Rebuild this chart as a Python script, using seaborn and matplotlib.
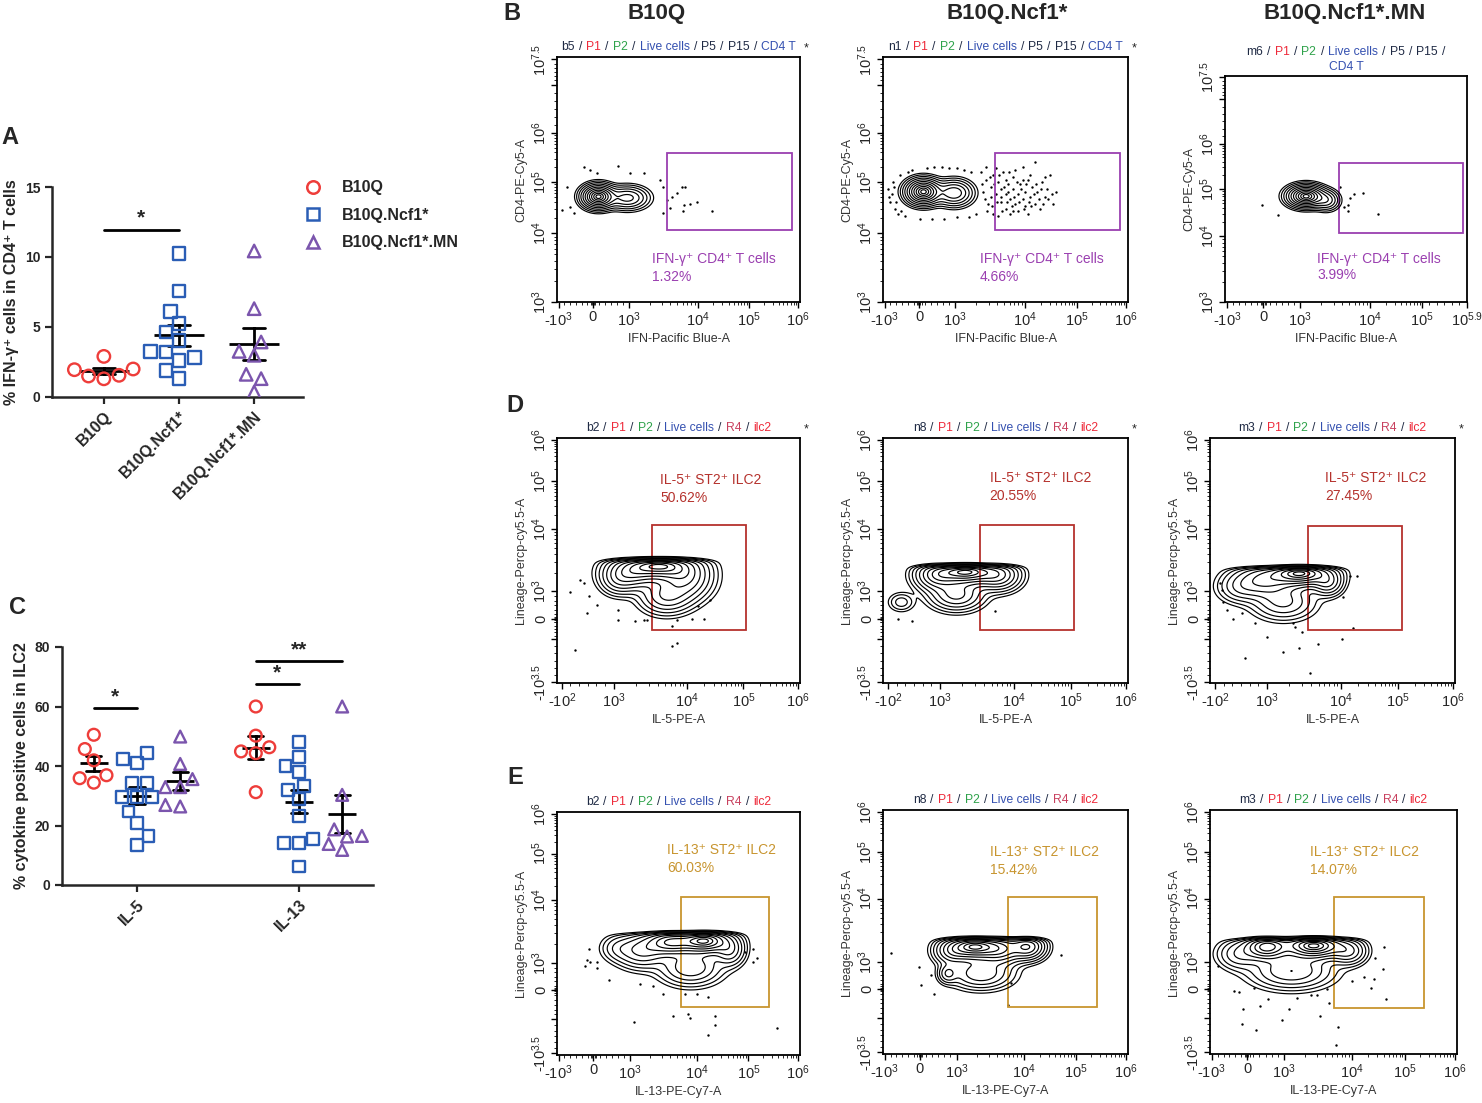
import numpy as np
import pandas as pd
import matplotlib
matplotlib.use('Agg')
import matplotlib.pyplot as plt
import seaborn as sns
from matplotlib.lines import Line2D
from matplotlib.patches import Rectangle
from matplotlib.offsetbox import TextArea, HPacker, VPacker, AnchoredOffsetbox

# ---------------- panel A : % IFN-g+ in CD4+ T cells
groups = ['B10Q', 'B10Q.Ncf1*', 'B10Q.Ncf1*.MN']
ifn_b10q = [2.9, 2.0, 1.95, 1.3, 1.5, 1.55]
ifn_ncf1 = [10.24, 7.57, 6.12, 5.24, 4.64, 4.05, 2.81, 3.2, 3.26, 2.62, 1.9, 1.31]
ifn_mn = [10.43, 6.31, 3.93, 3.26, 2.98, 1.62, 1.31, 0.36]
sig_a = [('B10Q', 'B10Q.Ncf1*', 11.9, '*')]

# ---------------- panel C : cytokine positive ILC2
cytokines = ['IL-5', 'IL-13']
il5_b10q = [50.5, 45.7, 41.9, 34.4, 36.9, 35.9]
il5_ncf1 = [40.9, 42.3, 44.5, 34.2, 34.2, 29.7, 29.7, 29.7, 24.7, 20.8, 16.5, 13.5]
il5_mn = [49.9, 40.7, 35.6, 32.9, 32.9, 26.4, 26.9]
il13_b10q = [60.0, 50.2, 46.3, 44.3, 44.9, 31.2]
il13_ncf1 = [48.2, 38.1, 40.1, 42.9, 33.3, 32.0, 28.8, 23.3, 15.4, 14.0, 14.2, 6.2]
il13_mn = [60.0, 30.3, 16.5, 16.3, 18.7, 11.8, 13.8]
sig_c = [('IL-5', 'B10Q', 'IL-5', 'B10Q.Ncf1*', 59.5, '*'),
         ('IL-13', 'B10Q', 'IL-13', 'B10Q.Ncf1*', 67.7, '*'),
         ('IL-13', 'B10Q', 'IL-13', 'B10Q.Ncf1*.MN', 75.2, '**')]

# ---------------- flow plots (display units 0..1 on each axis)
# blobs: (centre x, centre y, spread x, spread y, weight)
b_samples = ['b5', 'n1', 'm6']
b_pcts = ['1.32%', '4.66%', '3.99%']
b_gates = [(0.452, 0.293, 0.968, 0.607), (0.456, 0.293, 0.969, 0.607), (0.473, 0.307, 0.985, 0.613)]
b_blobs = [
    [(0.17, 0.43, 0.035, 0.025, 1.0), (0.29, 0.425, 0.045, 0.025, 0.35)],
    [(0.165, 0.45, 0.037, 0.027, 1.0), (0.29, 0.445, 0.04, 0.028, 0.4)],
    [(0.335, 0.468, 0.04, 0.025, 1.0), (0.42, 0.45, 0.028, 0.024, 0.25)],
]
b_dots = [
    [(0.041, 0.471), (0.021, 0.375), (0.055, 0.389), (0.11, 0.553), (0.164, 0.525), (0.253, 0.557),
     (0.30, 0.525), (0.356, 0.525), (0.425, 0.498), (0.438, 0.471), (0.452, 0.416), (0.473, 0.43),
     (0.493, 0.443), (0.514, 0.471), (0.527, 0.471), (0.521, 0.396), (0.548, 0.402), (0.575, 0.409),
     (0.52, 0.372), (0.637, 0.372), (0.438, 0.362), (0.466, 0.382), (0.068, 0.362), (0.137, 0.539)],
    [(0.42, 0.50), (0.44, 0.47), (0.45, 0.52), (0.46, 0.44), (0.47, 0.49), (0.48, 0.41), (0.48, 0.46),
     (0.49, 0.53), (0.50, 0.38), (0.50, 0.44), (0.51, 0.48), (0.52, 0.42), (0.52, 0.36), (0.53, 0.46),
     (0.53, 0.51), (0.54, 0.40), (0.55, 0.44), (0.55, 0.37), (0.56, 0.48), (0.57, 0.42), (0.58, 0.45),
     (0.58, 0.39), (0.59, 0.50), (0.60, 0.43), (0.61, 0.47), (0.62, 0.40), (0.63, 0.45), (0.64, 0.38),
     (0.65, 0.49), (0.66, 0.43), (0.67, 0.46), (0.69, 0.44), (0.68, 0.52), (0.57, 0.55), (0.62, 0.57),
     (0.45, 0.36), (0.47, 0.35), (0.43, 0.40), (0.41, 0.45), (0.44, 0.43), (0.02, 0.46), (0.03, 0.41),
     (0.04, 0.49), (0.05, 0.38), (0.035, 0.44), (0.07, 0.52), (0.06, 0.36), (0.12, 0.54), (0.18, 0.545),
     (0.24, 0.55), (0.30, 0.545), (0.36, 0.53), (0.40, 0.53), (0.15, 0.34), (0.25, 0.34), (0.35, 0.345),
     (0.405, 0.48), (0.415, 0.42), (0.425, 0.37), (0.435, 0.51), (0.445, 0.39), (0.455, 0.48),
     (0.465, 0.41), (0.475, 0.52), (0.485, 0.37), (0.495, 0.47), (0.505, 0.41), (0.515, 0.53),
     (0.525, 0.39), (0.535, 0.43), (0.545, 0.49), (0.555, 0.41), (0.565, 0.46), (0.575, 0.38),
     (0.585, 0.48), (0.595, 0.41), (0.605, 0.39), (0.615, 0.44), (0.625, 0.48), (0.635, 0.42),
     (0.645, 0.46), (0.655, 0.40), (0.675, 0.42), (0.705, 0.45), (0.695, 0.40), (0.66, 0.51),
     (0.60, 0.52), (0.54, 0.54), (0.50, 0.50), (0.46, 0.545), (0.42, 0.55), (0.48, 0.43), (0.51, 0.45),
     (0.53, 0.37), (0.57, 0.50), (0.59, 0.36), (0.025, 0.43), (0.045, 0.47), (0.055, 0.41),
     (0.075, 0.37), (0.09, 0.35), (0.10, 0.53), (0.21, 0.55), (0.27, 0.545), (0.33, 0.54),
     (0.20, 0.34), (0.30, 0.345), (0.38, 0.36)],
    [(0.152, 0.428), (0.221, 0.384), (0.49, 0.421), (0.517, 0.458), (0.531, 0.48), (0.572, 0.483),
     (0.51, 0.428), (0.51, 0.403), (0.634, 0.391), (0.476, 0.51)],
]

ilc_samples = ['b2', 'n8', 'm3']
d_pcts = ['50.62%', '20.55%', '27.45%']
d_gates = [(0.393, 0.218, 0.778, 0.646), (0.397, 0.218, 0.78, 0.646), (0.399, 0.216, 0.782, 0.641)]
d_tops = [0.50, 0.476, 0.468]
d_blobs = [
    [(0.42, 0.48, 0.08, 0.035, 1.0), (0.30, 0.45, 0.06, 0.04, 0.5), (0.53, 0.43, 0.06, 0.05, 0.45),
     (0.45, 0.355, 0.06, 0.04, 0.32), (0.25, 0.42, 0.04, 0.035, 0.15)],
    [(0.34, 0.455, 0.07, 0.03, 1.0), (0.22, 0.44, 0.05, 0.035, 0.5), (0.47, 0.44, 0.05, 0.035, 0.45),
     (0.30, 0.36, 0.06, 0.035, 0.35), (0.075, 0.33, 0.03, 0.022, 0.1)],
    [(0.37, 0.45, 0.07, 0.03, 1.0), (0.22, 0.42, 0.07, 0.04, 0.45), (0.12, 0.39, 0.05, 0.035, 0.15),
     (0.30, 0.33, 0.07, 0.04, 0.22), (0.48, 0.41, 0.035, 0.03, 0.3)],
]
d_dots = [
    [(0.052, 0.371), (0.075, 0.136), (0.093, 0.422), (0.11, 0.408), (0.123, 0.286), (0.13, 0.354),
     (0.164, 0.32), (0.253, 0.256), (0.253, 0.297), (0.322, 0.254), (0.356, 0.259), (0.473, 0.234),
     (0.493, 0.259), (0.555, 0.261), (0.582, 0.313), (0.63, 0.34), (0.473, 0.152), (0.493, 0.163),
     (0.37, 0.259), (0.603, 0.261)],
    [(0.061, 0.262), (0.12, 0.253), (0.456, 0.295)],
    [(0.041, 0.407), (0.048, 0.379), (0.054, 0.332), (0.068, 0.297), (0.095, 0.263), (0.129, 0.284),
     (0.143, 0.102), (0.184, 0.243), (0.231, 0.186), (0.299, 0.127), (0.34, 0.246), (0.347, 0.229),
     (0.363, 0.141), (0.374, 0.209), (0.408, 0.041), (0.442, 0.161), (0.537, 0.181), (0.544, 0.352),
     (0.571, 0.438), (0.599, 0.438), (0.585, 0.225)],
]

e_pcts = ['60.03%', '15.42%', '14.07%']
e_gates = [(0.51, 0.196, 0.874, 0.65), (0.51, 0.191, 0.875, 0.645), (0.503, 0.19, 0.865, 0.645)]
e_tops = [0.50, 0.47, 0.47]
e_blobs = [
    [(0.61, 0.47, 0.06, 0.03, 1.0), (0.47, 0.465, 0.06, 0.03, 0.75), (0.35, 0.43, 0.06, 0.04, 0.35),
     (0.55, 0.36, 0.07, 0.04, 0.3), (0.71, 0.43, 0.035, 0.035, 0.3), (0.25, 0.44, 0.04, 0.03, 0.1)],
    [(0.37, 0.44, 0.06, 0.03, 1.0), (0.59, 0.44, 0.04, 0.03, 0.6), (0.48, 0.43, 0.05, 0.035, 0.55),
     (0.265, 0.33, 0.022, 0.022, 0.2), (0.28, 0.42, 0.04, 0.03, 0.3), (0.40, 0.33, 0.07, 0.035, 0.3)],
    [(0.23, 0.44, 0.05, 0.03, 0.8), (0.42, 0.445, 0.07, 0.03, 1.0), (0.12, 0.41, 0.05, 0.035, 0.2),
     (0.33, 0.34, 0.09, 0.04, 0.3), (0.56, 0.42, 0.04, 0.03, 0.3)],
]
e_dots = [
    [(0.13, 0.438), (0.123, 0.39), (0.137, 0.384), (0.164, 0.384), (0.116, 0.366), (0.164, 0.36),
     (0.212, 0.308), (0.315, 0.137), (0.342, 0.292), (0.397, 0.284), (0.438, 0.253), (0.477, 0.16),
     (0.541, 0.168), (0.548, 0.151), (0.623, 0.082), (0.651, 0.16), (0.651, 0.123), (0.623, 0.237),
     (0.774, 0.425), (0.808, 0.438), (0.808, 0.384), (0.822, 0.4), (0.904, 0.112), (0.575, 0.253),
     (0.527, 0.253)],
    [(0.034, 0.413), (0.146, 0.358), (0.154, 0.283), (0.197, 0.324), (0.208, 0.246), (0.51, 0.2),
     (0.521, 0.292), (0.728, 0.406)],
    [(0.031, 0.361), (0.099, 0.258), (0.118, 0.255), (0.132, 0.183), (0.128, 0.122), (0.178, 0.269),
     (0.185, 0.098), (0.203, 0.197), (0.234, 0.227), (0.293, 0.139), (0.32, 0.183), (0.354, 0.231),
     (0.408, 0.242), (0.435, 0.242), (0.446, 0.156), (0.473, 0.266), (0.48, 0.208), (0.518, 0.112),
     (0.509, 0.037), (0.574, 0.301), (0.622, 0.317), (0.662, 0.306), (0.653, 0.272), (0.699, 0.347),
     (0.703, 0.437), (0.712, 0.224), (0.669, 0.392)],
]

# axis tick labels and where the cytometer software puts them
b_x_labels = ['-10^3', '0', '10^3', '10^4', '10^5', '10^6']
b_x_pos = [0.007, 0.148, 0.295, 0.58, 0.79, 0.993]
b3_x_labels = ['-10^3', '0', '10^3', '10^4', '10^5', '10^5.9']
b3_x_pos = [0.01, 0.159, 0.31, 0.60, 0.814, 1.0]
b_y_labels = ['10^3', '10^4', '10^5', '10^6', '', '10^7.5']
b_y_pos = [0.0, 0.28, 0.49, 0.69, 0.887, 0.99]
b3_y_pos = [0.0, 0.29, 0.50, 0.70, 0.898, 0.994]
d_x_labels = ['-10^2', '10^3', '10^4', '10^5', '10^6']
d_x_pos = [0.02, 0.233, 0.534, 0.767, 0.993]
ilc_y_labels = ['-10^3.5', '', '0', '10^3', '10^4', '10^5', '10^6']
d_y_pos = [0.003, 0.18, 0.261, 0.374, 0.629, 0.823, 0.993]
e_x_labels = ['-10^3', '0', '10^3', '10^4', '10^5', '10^6']
e_x_pos = [0.007, 0.15, 0.30, 0.575, 0.788, 0.993]
e_y_pos = [0.007, 0.147, 0.267, 0.377, 0.637, 0.829, 0.993]

RED, BLUE, PURPLE = '#ee3d3a', '#2a5db5', '#7b55ad'
pal = dict(zip(groups, [RED, BLUE, PURPLE]))
markers = dict(zip(groups, ['o', 's', '^']))

sns.set_style('ticks')
plt.rcParams['font.family'] = ['Liberation Sans', 'DejaVu Sans']
plt.rcParams['mathtext.fontset'] = 'custom'
plt.rcParams['mathtext.rm'] = 'Liberation Sans'
plt.rcParams['mathtext.it'] = 'Liberation Sans:italic'
plt.rcParams['mathtext.bf'] = 'Liberation Sans:bold'
plt.rcParams['mathtext.default'] = 'regular'

W, H = 1482, 1103
fig = plt.figure(figsize=(W / 100, H / 100), dpi=100)


def px_axes(l, r, t, b):
    return fig.add_axes([l / W, 1 - b / H, (r - l) / W, (b - t) / H])


def hollow(ax, n0, color):
    for c in ax.collections[n0:]:
        c.set_facecolor('none')
        c.set_edgecolor(color)
        c.set_linewidth(1.7)


def style_dot_axes(ax, ylabel):
    sns.despine(ax=ax)
    for s in ['left', 'bottom']:
        ax.spines[s].set_linewidth(1.8)
    ax.tick_params(width=1.6, length=5, labelsize=10)
    for t in ax.get_yticklabels():
        t.set_fontweight('bold')
    for t in ax.get_xticklabels():
        t.set_fontweight('bold')
        t.set_fontsize(11.5)
    ax.set_ylabel(ylabel, fontsize=11.5, fontweight='bold')
    ax.set_xlabel('')


# ---------------- panel A
ax = px_axes(52, 303, 187, 397)
dfa = pd.DataFrame({'group': np.repeat(groups, [len(ifn_b10q), len(ifn_ncf1), len(ifn_mn)]),
                    'value': ifn_b10q + ifn_ncf1 + ifn_mn})
for g in groups:
    n0 = len(ax.collections)
    sns.swarmplot(data=dfa[dfa.group == g], x='group', y='value', order=groups, marker=markers[g],
                  size=9, color=pal[g], ax=ax)
    hollow(ax, n0, pal[g])
sns.pointplot(data=dfa, x='group', y='value', order=groups, errorbar='se', color='black',
              marker='_', markersize=36, markeredgewidth=2, linestyle='none', capsize=0.29,
              err_kws={'linewidth': 2}, ax=ax)
ax.set_ylim(0, 15)
ax.set_yticks([0, 5, 10, 15])
ax.set_xlim(-0.69, 2.65)
ax.set_xticks(range(len(groups)))
ax.set_xticklabels(groups, rotation=45, ha='right', rotation_mode='anchor')
style_dot_axes(ax, '% IFN-γ⁺ cells in CD4⁺ T cells')
for a, b, h, s in sig_a:
    xa, xb = groups.index(a), groups.index(b)
    ax.plot([xa, xb], [h, h], color='black', lw=2, clip_on=False)
    ax.text((xa + xb) / 2, h + 0.2, s, ha='center', va='bottom', fontsize=15, fontweight='bold')

handles = [Line2D([], [], marker=markers[g], ls='none', mfc='none', mec=pal[g], mew=1.8, ms=9)
           for g in groups]
fig.legend(handles, groups, loc='upper left', bbox_to_anchor=(289 / W, 1 - 166 / H), frameon=False,
           prop={'weight': 'bold', 'size': 11.5}, handletextpad=1.2, labelspacing=0.78,
           handlelength=1.2)

# ---------------- panel C
ax = px_axes(62, 373, 647, 885)
rows = []
for cyt, vals in zip(cytokines, [[il5_b10q, il5_ncf1, il5_mn], [il13_b10q, il13_ncf1, il13_mn]]):
    for g, v in zip(groups, vals):
        rows += [(cyt, g, x) for x in v]
dfc = pd.DataFrame(rows, columns=['cytokine', 'group', 'value'])
for g in groups:
    n0 = len(ax.collections)
    sns.swarmplot(data=dfc[dfc.group == g], x='cytokine', y='value', hue='group', order=cytokines,
                  hue_order=groups, dodge=True, palette=pal, marker=markers[g], size=8.5,
                  legend=False, ax=ax)
    hollow(ax, n0, pal[g])
sns.pointplot(data=dfc, x='cytokine', y='value', hue='group', order=cytokines, hue_order=groups,
              dodge=0.534, palette=['black'] * 3, errorbar='se', marker='_', markersize=20,
              markeredgewidth=2, linestyle='none', capsize=0.095, err_kws={'linewidth': 2},
              legend=False, ax=ax)
ax.set_ylim(0, 80)
ax.set_yticks([0, 20, 40, 60, 80])
ax.set_xlim(-0.463, 1.457)
ax.set_xticks(range(len(cytokines)))
ax.set_xticklabels(cytokines, rotation=45, ha='right', rotation_mode='anchor')
style_dot_axes(ax, '% cytokine positive cells in ILC2')
off = dict(zip(groups, [-0.267, 0.0, 0.267]))
for ca, ga, cb, gb, h, s in sig_c:
    xa = cytokines.index(ca) + off[ga]
    xb = cytokines.index(cb) + off[gb]
    ax.plot([xa, xb], [h, h], color='black', lw=2, clip_on=False)
    ax.text((xa + xb) / 2, h + 0.5, s, ha='center', va='bottom', fontsize=15, fontweight='bold')

# ---------------- flow panels
grid = np.linspace(0, 1, 301)
gx, gy = np.meshgrid(grid, grid)
radii = np.linspace(0.3, 2.8, 11)

K, R, G, BL, R4 = '#1f2a44', '#ee2a3a', '#2ea24a', '#3450b0', '#c8405e'


def fmt(lab):
    if lab in ('', '0'):
        return lab
    sign = '-' if lab.startswith('-') else ''
    return sign + '$10^{' + lab.lstrip('-')[3:] + '}$'


def set_flow_ticks(axis, labels, pos):
    axis.set_ticks(pos)
    axis.set_ticklabels([fmt(l) for l in labels])
    minors = []
    for la, lb, pa, pb in zip(labels[:-1], labels[1:], pos[:-1], pos[1:]):
        if la.startswith('10^') and lb.startswith('10^') and '.' not in la + lb:
            minors += [pa + (pb - pa) * np.log10(k) for k in range(2, 10)]
        else:
            minors += list(np.linspace(pa, pb, 7)[1:-1])
    if '0' in labels:
        z = pos[labels.index('0')]
        minors += [z - 0.01, z - 0.005, z + 0.005, z + 0.01]
    axis.set_ticks(minors, minor=True)


def header(ax, sample, tail, wrap=False, star=True):
    parts = [(sample, K), ('/', K), ('P1', R), ('/', K), ('P2', G), ('/', K), ('Live cells', BL)] + tail
    tp = lambda c: dict(color=c, fontsize=8.7)
    if wrap:
        row1 = HPacker(children=[TextArea(t, textprops=tp(c)) for t, c in parts[:-1]],
                       align='baseline', pad=0, sep=3)
        row2 = TextArea(parts[-1][0], textprops=tp(parts[-1][1]))
        box = VPacker(children=[row1, row2], align='center', pad=0, sep=2)
    else:
        box = HPacker(children=[TextArea(t, textprops=tp(c)) for t, c in parts],
                      align='baseline', pad=0, sep=3)
    ab = AnchoredOffsetbox(loc='lower center', child=box, pad=0, borderpad=0, frameon=False,
                           bbox_to_anchor=(0.5, 1.015), bbox_transform=ax.transAxes)
    ax.add_artist(ab)
    if star:
        ax.text(1.025, 1.035, '*', transform=ax.transAxes, ha='center', va='center', fontsize=9)


def flow_panel(ax, blobs, dots, gate, gcolor, label, pct, txy, xspec, yspec, xlabel, ylabel, top=None):
    d = np.zeros_like(gx)
    for cx, cy, sx, sy, w in blobs:
        d += w * np.exp(-0.5 * (((gx - cx) / sx) ** 2 + ((gy - cy) / sy) ** 2))
    if top is not None:
        d /= 1 + np.exp((gy - top) / 0.005)
    ax.contour(gx, gy, d, levels=d.max() * np.exp(-0.5 * radii[::-1] ** 2), colors='black',
               linewidths=0.85)
    dx, dy = zip(*dots)
    ax.scatter(dx, dy, s=3, color='black', linewidths=0)
    x0, y0, x1, y1 = gate
    ax.add_patch(Rectangle((x0, y0), x1 - x0, y1 - y0, fill=False, edgecolor=gcolor, lw=1.3))
    ax.text(txy[0], txy[1], label, color=gcolor, fontsize=10, va='center', transform=ax.transAxes)
    ax.text(txy[0], txy[1] - 0.073, pct, color=gcolor, fontsize=10, va='center',
            transform=ax.transAxes)
    ax.set_xlim(0, 1)
    ax.set_ylim(0, 1)
    set_flow_ticks(ax.xaxis, *xspec)
    set_flow_ticks(ax.yaxis, *yspec)
    for t in ax.get_yticklabels():
        t.set_rotation(90)
        t.set_va('center')
    ax.tick_params(which='major', length=4, width=1, labelsize=10.5, color='black', pad=2)
    ax.tick_params(which='minor', length=2, width=0.7)
    for s in ax.spines.values():
        s.set_linewidth(1.3)
        s.set_color('black')
    ax.set_xlabel(xlabel, fontsize=9, color='#333333', labelpad=3)
    ax.set_ylabel(ylabel, fontsize=9, color='#333333', labelpad=2)


B_PURPLE, D_RED, E_GOLD = '#9a3fb0', '#b5322d', '#c8952f'
b_boxes = [(557, 800, 57, 302), (883, 1128, 57, 302), (1225, 1467, 76, 302)]
d_boxes = [(557, 800, 438, 683), (883, 1128, 438, 683), (1210, 1455, 438, 683)]
e_boxes = [(557, 800, 812, 1055), (883, 1128, 810, 1054), (1210, 1457, 810, 1054)]
b_txy = [(0.39, 0.177), (0.395, 0.177), (0.38, 0.192)]
d_txy = [(0.425, 0.83), (0.435, 0.837), (0.47, 0.836)]
e_txy = [(0.452, 0.842), (0.435, 0.829), (0.405, 0.829)]

for i in range(3):
    ax = px_axes(*b_boxes[i])
    xs = (b3_x_labels, b3_x_pos) if i == 2 else (b_x_labels, b_x_pos)
    ys = (b_y_labels, b3_y_pos) if i == 2 else (b_y_labels, b_y_pos)
    flow_panel(ax, b_blobs[i], b_dots[i], b_gates[i], B_PURPLE, 'IFN-γ⁺ CD4⁺ T cells', b_pcts[i],
               b_txy[i], xs, ys, 'IFN-Pacific Blue-A', 'CD4-PE-Cy5-A')
    tail = [('/', K), ('P5', K), ('/', K), ('P15', K), ('/', K), ('CD4 T', BL)]
    header(ax, b_samples[i], tail, wrap=(i == 2), star=(i < 2))

    ax = px_axes(*d_boxes[i])
    flow_panel(ax, d_blobs[i], d_dots[i], d_gates[i], D_RED, 'IL-5⁺ ST2⁺ ILC2', d_pcts[i],
               d_txy[i], (d_x_labels, d_x_pos), (ilc_y_labels, d_y_pos), 'IL-5-PE-A',
               'Lineage-Percp-cy5.5-A', top=d_tops[i])
    tail = [('/', K), ('R4', R4), ('/', K), ('ilc2', R)]
    header(ax, ilc_samples[i], tail, star=True)

    ax = px_axes(*e_boxes[i])
    flow_panel(ax, e_blobs[i], e_dots[i], e_gates[i], E_GOLD, 'IL-13⁺ ST2⁺ ILC2', e_pcts[i],
               e_txy[i], (e_x_labels, e_x_pos), (ilc_y_labels, e_y_pos), 'IL-13-PE-Cy7-A',
               'Lineage-Percp-cy5.5-A', top=e_tops[i])
    header(ax, ilc_samples[i], tail, star=False)

# column titles and panel letters
for x, t in zip([657, 1007, 1345], groups):
    fig.text(x / W, 1 - 13 / H, t, ha='center', va='center', fontsize=16, fontweight='bold')
for x, y, t in [(10, 138, 'A'), (512, 14, 'B'), (18, 607, 'C'), (515, 405, 'D'), (515, 778, 'E')]:
    fig.text(x / W, 1 - y / H, t, ha='center', va='center', fontsize=17, fontweight='bold')

fig.savefig('out.png', dpi=100)
